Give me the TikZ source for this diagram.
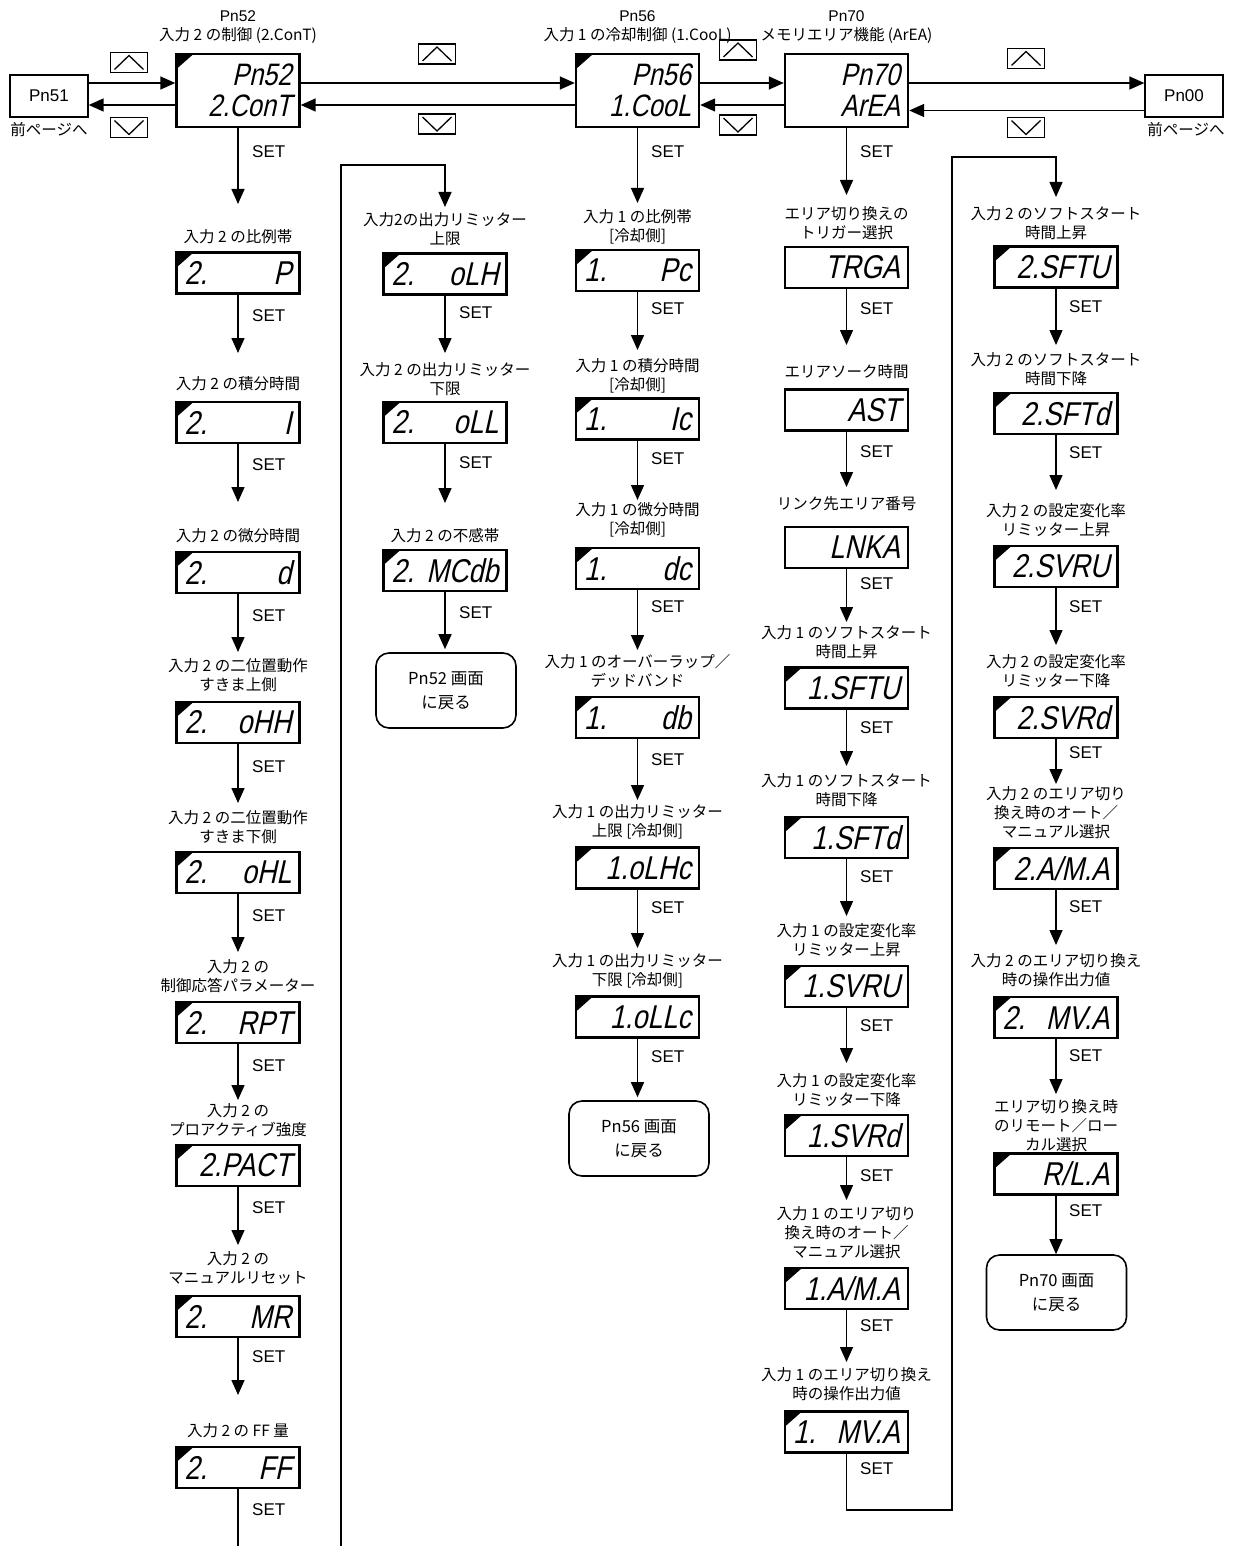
\documentclass[tikz,border=0pt]{standalone}
\usepackage{fontspec}
\setmainfont{Liberation Sans}
\newfontfamily\jp{Noto Sans CJK JP}
\newfontfamily\segfont[FakeSlant=0.22,FakeStretch=0.82]{Liberation Sans}
\usetikzlibrary{arrows.meta}

\begin{document}
\begin{tikzpicture}[
  x=1pt, y=-1pt,
  font=\fontsize{17}{17}\selectfont,
  segbox/.style={draw, line width=2.4pt, minimum width=123pt, minimum height=41pt, text width=107pt, inner xsep=8pt, inner ysep=0pt, align=right, font=\segfont\fontsize{33}{33}\selectfont},
  segmark/.style={segbox, path picture={\fill (path picture bounding box.north west) -- ++(17pt,0pt) -- ++(-17pt,-15pt) -- cycle;}},
  segtop/.style={minimum height=73pt, font=\segfont\fontsize{31}{31}\selectfont},
  lab/.style={anchor=north, align=center, inner sep=0pt, font=\jp\fontsize{15.5}{19}\selectfont},
  setlab/.style={anchor=west, inner sep=0pt},
  pnbox/.style={draw, line width=1.3pt, minimum width=78pt, minimum height=42pt},
  backbox/.style={draw, line width=1.6pt, rounded corners=13pt, minimum width=140pt, minimum height=75pt, align=center, font=\jp\fontsize{16.5}{24}\selectfont},
  keybox/.style={draw, line width=1.1pt, minimum width=37pt, minimum height=20pt, inner sep=0pt},
  upkey/.style={keybox, path picture={\draw[line width=1.3pt] ([shift={(4pt,3pt)}]path picture bounding box.south west) -- ([yshift=-3pt]path picture bounding box.north) -- ([shift={(-4pt,3pt)}]path picture bounding box.south east);}},
  downkey/.style={keybox, path picture={\draw[line width=1.3pt] ([shift={(4pt,-3pt)}]path picture bounding box.north west) -- ([yshift=3pt]path picture bounding box.south) -- ([shift={(-4pt,-3pt)}]path picture bounding box.north east);}},
  flow/.style={-{Triangle[length=15pt,width=13pt]}, line width=1.5pt},
  link/.style={line width=1.5pt}
]
\useasboundingbox (0,0) rectangle (1237,1546);
\fill[white] (0,0) rectangle (1237,1546);

% Top row: parameter pages
\node[pnbox] (pn51) at (49,96) {Pn51};
\node[lab] (prev51) at (49,122) {前ページへ};
\node[segmark, segtop] (pn52) at (238,90.5) {Pn52\\2.ConT};
\node[lab] (ttl52) at (238,10) {{\normalfont Pn52}\\入力 2 の制御 (2.ConT)};
\node[segmark, segtop] (pn56) at (637.5,90.5) {Pn56\\1.CooL};
\node[lab] (ttl56) at (637.5,10) {{\normalfont Pn56}\\入力 1 の冷却制御 (1.CooL)};
\node[segbox, segtop] (pn70) at (846.5,90.5) {Pn70\\ArEA};
\node[lab] (ttl70) at (846.5,10) {{\normalfont Pn70}\\メモリエリア機能 (ArEA)};
\node[pnbox] (pn00) at (1184,96) {Pn00};
\node[lab] (prev00) at (1186,122) {前ページへ};

\node[upkey] (up1) at (129,62.5) {};
\node[downkey] (dn1) at (129,127.5) {};
\node[upkey] (up2) at (437,54) {};
\node[downkey] (dn2) at (437,124) {};
\node[upkey] (up3) at (738,50) {};
\node[downkey] (dn3) at (738,125) {};
\node[upkey] (up4) at (1026,58.5) {};
\node[downkey] (dn4) at (1026,127.5) {};

\draw[flow] ([yshift=13pt]pn51.east) -- ([yshift=13pt]pn51.east -| pn52.west);
\draw[flow] ([yshift=-9pt]pn51.east -| pn52.west) -- ([yshift=-9pt]pn51.east);
\draw[flow] ([yshift=7.5pt]pn52.east) -- ([yshift=7.5pt]pn52.east -| pn56.west);
\draw[flow] ([yshift=-14.5pt]pn56.west) -- ([yshift=-14.5pt]pn56.west -| pn52.east);
\draw[flow] ([yshift=7.5pt]pn56.east) -- ([yshift=7.5pt]pn56.east -| pn70.west);
\draw[flow] ([yshift=-14.5pt]pn70.west) -- ([yshift=-14.5pt]pn70.west -| pn56.east);
\draw[flow] ([yshift=7.5pt]pn70.east) -- ([yshift=7.5pt]pn70.east -| pn00.west);
\draw[flow] ([yshift=-14.5pt]pn00.west) -- ([yshift=-14.5pt]pn00.west -| pn70.east);

% Column 1: Pn52
\node[setlab] (s10) at (252,152) {SET};
\node[lab] (l11) at (238,229) {入力 2 の比例帯};
\node[segmark] (d11) at (238,273) {2.\hfill P};
\node[setlab] (s11) at (252,316) {SET};
\node[lab] (l12) at (238,376) {入力 2 の積分時間};
\node[segmark] (d12) at (238,422.5) {2.\hfill I};
\node[setlab] (s12) at (252,465) {SET};
\node[lab] (l13) at (238,528) {入力 2 の微分時間};
\node[segmark] (d13) at (238,572.5) {2.\hfill d};
\node[setlab] (s13) at (252,616) {SET};
\node[lab] (l14) at (238,658) {入力 2 の二位置動作\\すきま上側};
\node[segmark] (d14) at (238,722.5) {2.\hfill oHH};
\node[setlab] (s14) at (252,767) {SET};
\node[lab] (l15) at (238,810) {入力 2 の二位置動作\\すきま下側};
\node[segmark] (d15) at (238,872.5) {2.\hfill oHL};
\node[setlab] (s15) at (252,916) {SET};
\node[lab] (l16) at (238,959) {入力 2 の\\制御応答パラメーター};
\node[segmark] (d16) at (238,1022.5) {2.\hfill RPT};
\node[setlab] (s16) at (252,1066) {SET};
\node[lab] (l17) at (238,1103) {入力 2 の\\プロアクティブ強度};
\node[segmark] (d17) at (238,1165.5) {2.PACT};
\node[setlab] (s17) at (252,1208) {SET};
\node[lab] (l18) at (238,1251) {入力 2 の\\マニュアルリセット};
\node[segmark] (d18) at (238,1316.5) {2.\hfill MR};
\node[setlab] (s18) at (252,1357) {SET};
\node[lab] (l19) at (238,1423) {入力 2 の FF 量};
\node[segmark] (d19) at (238,1467.5) {2.\hfill FF};
\node[setlab] (s19) at (252,1510) {SET};

\draw[flow, shorten >=25pt] (pn52.south) -- (l11.north);
\draw[flow, shorten >=23pt] (d11.south) -- (l12.north);
\draw[flow, shorten >=26pt] (d12.south) -- (l13.north);
\draw[flow, shorten >=6pt] (d13.south) -- (l14.north);
\draw[flow, shorten >=7pt] (d14.south) -- (l15.north);
\draw[flow, shorten >=7pt] (d15.south) -- (l16.north);
\draw[flow, shorten >=3pt] (d16.south) -- (l17.north);
\draw[flow, shorten >=6pt] (d17.south) -- (l18.north);
\draw[flow, shorten >=28pt] (d18.south) -- (l19.north);

% Column 2: continued from column 1
\coordinate (cutA) at (238,1546);
\coordinate (cutB) at (341,1546);
\coordinate (loopC) at (341,165);
\node[lab] (l21) at (445,212) {入力2の出力リミッター\\上限};
\node[segmark] (d21) at (445,274) {2.\hfill oLH};
\node[setlab] (s21) at (459,313) {SET};
\node[lab] (l22) at (445,362) {入力 2 の出力リミッター\\下限};
\node[segmark] (d22) at (445,422.5) {2.\hfill oLL};
\node[setlab] (s22) at (459,463) {SET};
\node[lab] (l23) at (445,528) {入力 2 の不感帯};
\node[segmark] (d23) at (445,570.5) {2.\hfill MCdb};
\node[setlab] (s23) at (459,613) {SET};
\node[backbox] (b2) at (446,690.5) {Pn52 画面\\に戻る};

\draw[link] (d19.south) -- (cutA);
\draw[flow, shorten >=5pt] (cutB) -- (loopC) -| (l21.north);
\draw[flow, shorten >=9pt] (d21.south) -- (l22.north);
\draw[flow, shorten >=25pt] (d22.south) -- (l23.north);
\draw[flow, shorten >=3pt] (d23.south) -- (d23.south |- b2.north);

% Column 3: Pn56
\node[setlab] (s30) at (651,152) {SET};
\node[lab] (l31) at (637.5,209) {入力 1 の比例帯\\{}[冷却側]};
\node[segmark] (d31) at (637.5,270.5) {1.\hfill Pc};
\node[setlab] (s31) at (651,309) {SET};
\node[lab] (l32) at (637.5,358) {入力 1 の積分時間\\{}[冷却側]};
\node[segmark] (d32) at (637.5,419) {1.\hfill Ic};
\node[setlab] (s32) at (651,459) {SET};
\node[lab] (l33) at (637.5,502) {入力 1 の微分時間\\{}[冷却側]};
\node[segmark] (d33) at (637.5,568.5) {1.\hfill dc};
\node[setlab] (s33) at (651,607) {SET};
\node[lab] (l34) at (637.5,654) {入力 1 のオーバーラップ／\\デッドバンド};
\node[segmark] (d34) at (637.5,717.5) {1.\hfill db};
\node[setlab] (s34) at (651,760) {SET};
\node[lab] (l35) at (637.5,804) {入力 1 の出力リミッター\\上限 [冷却側]};
\node[segmark] (d35) at (637.5,868) {1.oLHc};
\node[setlab] (s35) at (651,908) {SET};
\node[lab] (l36) at (637.5,953) {入力 1 の出力リミッター\\下限 [冷却側]};
\node[segmark] (d36) at (637.5,1017) {1.oLLc};
\node[setlab] (s36) at (651,1057) {SET};
\node[backbox] (b3) at (639,1138.5) {Pn56 画面\\に戻る};

\draw[flow, shorten >=6pt] (pn56.south) -- (l31.north);
\draw[flow, shorten >=8pt] (d31.south) -- (l32.north);
\draw[flow, shorten >=2pt] (d32.south) -- (l33.north);
\draw[flow, shorten >=4pt] (d33.south) -- (l34.north);
\draw[flow, shorten >=4pt] (d34.south) -- (l35.north);
\draw[flow, shorten >=5pt] (d35.south) -- (l36.north);
\draw[flow, shorten >=3pt] (d36.south) -- (d36.south |- b3.north);

% Column 4: Pn70
\node[setlab] (s40) at (860,152) {SET};
\node[lab] (l41) at (846.5,206) {エリア切り換えの\\トリガー選択};
\node[segbox] (d41) at (846.5,267.5) {TRGA};
\node[setlab] (s41) at (860,309) {SET};
\node[lab] (l42) at (846.5,364) {エリアソーク時間};
\node[segbox] (d42) at (846.5,410) {AST};
\node[setlab] (s42) at (860,452) {SET};
\node[lab] (l43) at (846.5,496) {リンク先エリア番号};
\node[segbox] (d43) at (846.5,547.5) {LNKA};
\node[setlab] (s43) at (860,584) {SET};
\node[lab] (l44) at (846.5,625) {入力 1 のソフトスタート\\時間上昇};
\node[segmark] (d44) at (846.5,688) {1.SFTU};
\node[setlab] (s44) at (860,728) {SET};
\node[lab] (l45) at (846.5,773) {入力 1 のソフトスタート\\時間下降};
\node[segmark] (d45) at (846.5,837.5) {1.SFTd};
\node[setlab] (s45) at (860,877) {SET};
\node[lab] (l46) at (846.5,923) {入力 1 の設定変化率\\リミッター上昇};
\node[segmark] (d46) at (846.5,986.5) {1.SVRU};
\node[setlab] (s46) at (860,1026) {SET};
\node[lab] (l47) at (846.5,1073) {入力 1 の設定変化率\\リミッター下降};
\node[segmark] (d47) at (846.5,1135.5) {1.SVRd};
\node[setlab] (s47) at (860,1176) {SET};
\node[lab] (l48) at (846.5,1206) {入力 1 のエリア切り\\換え時のオート／\\マニュアル選択};
\node[segmark] (d48) at (846.5,1288.5) {1.A/M.A};
\node[setlab] (s48) at (860,1326) {SET};
\node[lab] (l49) at (846.5,1367) {入力 1 のエリア切り換え\\時の操作出力値};
\node[segmark] (d49) at (846.5,1432) {1.\hfill MV.A};
\node[setlab] (s49) at (860,1469) {SET};

\draw[flow, shorten >=11pt] (pn70.south) -- (l41.north);
\draw[flow, shorten >=19pt] (d41.south) -- (l42.north);
\draw[flow, shorten >=9pt] (d42.south) -- (l43.north);
\draw[flow, shorten >=3pt] (d43.south) -- (l44.north);
\draw[flow, shorten >=7pt] (d44.south) -- (l45.north);
\draw[flow, shorten >=7pt] (d45.south) -- (l46.north);
\draw[flow, shorten >=10pt] (d46.south) -- (l47.north);
\draw[flow, shorten >=6pt] (d47.south) -- (l48.north);
\draw[flow, shorten >=5pt] (d48.south) -- (l49.north);

% Column 5: continued from column 4
\coordinate (loopB) at (952,1510);
\coordinate (loopT) at (952,157);
\node[lab] (l51) at (1056,206) {入力 2 のソフトスタート\\時間上昇};
\node[segmark] (d51) at (1056,267) {2.SFTU};
\node[setlab] (s51) at (1069,307) {SET};
\node[lab] (l52) at (1056,352) {入力 2 のソフトスタート\\時間下降};
\node[segmark] (d52) at (1056,413.5) {2.SFTd};
\node[setlab] (s52) at (1069,453) {SET};
\node[lab] (l53) at (1056,503) {入力 2 の設定変化率\\リミッター上昇};
\node[segmark] (d53) at (1056,566.5) {2.SVRU};
\node[setlab] (s53) at (1069,607) {SET};
\node[lab] (l54) at (1056,654) {入力 2 の設定変化率\\リミッター下降};
\node[segmark] (d54) at (1056,717.5) {2.SVRd};
\node[setlab] (s54) at (1069,753) {SET};
\node[lab] (l55) at (1056,786) {入力 2 のエリア切り\\換え時のオート／\\マニュアル選択};
\node[segmark] (d55) at (1056,868.5) {2.A/M.A};
\node[setlab] (s55) at (1069,907) {SET};
\node[lab] (l56) at (1056,953) {入力 2 のエリア切り換え\\時の操作出力値};
\node[segmark] (d56) at (1056,1017.5) {2.\hfill MV.A};
\node[setlab] (s56) at (1069,1056) {SET};
\node[lab] (l57) at (1056,1099) {エリア切り換え時\\のリモート／ロー\\カル選択};
\node[segmark] (d57) at (1056,1174) {R/L.A};
\node[setlab] (s57) at (1069,1211) {SET};
\node[backbox] (b5) at (1056.5,1292.5) {Pn70 画面\\に戻る};

\draw[flow, shorten >=9pt] (d49.south) |- (loopB) -- (loopT) -| (l51.north);
\draw[flow, shorten >=7pt] (d51.south) -- (l52.north);
\draw[flow, shorten >=13pt] (d52.south) -- (l53.north);
\draw[flow, shorten >=9pt] (d53.south) -- (l54.north);
\draw[flow, shorten >=2pt] (d54.south) -- (l55.north);
\draw[flow, shorten >=8pt] (d55.south) -- (l56.north);
\draw[flow, shorten >=5pt] (d56.south) -- (l57.north);
\draw[flow] (d57.south) -- (d57.south |- b5.north);
\end{tikzpicture}
\end{document}
